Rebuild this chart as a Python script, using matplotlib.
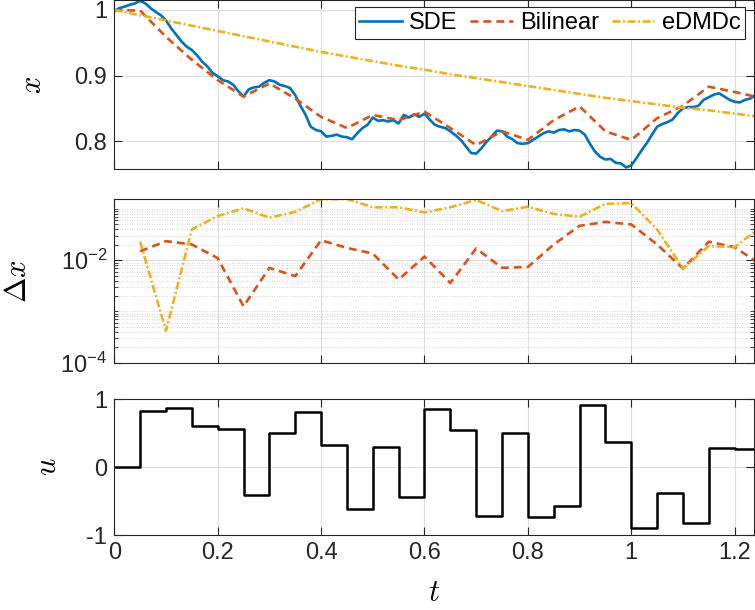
import numpy as np
import matplotlib
matplotlib.use("Agg")
import matplotlib.pyplot as plt
from matplotlib.ticker import FixedLocator, NullFormatter

plt.rcParams['font.family'] = ['Liberation Sans', 'DejaVu Sans']
plt.rcParams['mathtext.fontset'] = 'cm'
plt.rcParams['axes.unicode_minus'] = False

# ---- data ----
# SDE trajectory, sampled every 0.01
sde_x = [0.998, 1.003, 1.005, 1.008, 1.010, 1.014, 1.010, 1.003, 0.997, 0.992,
         0.984, 0.972, 0.962, 0.952, 0.944, 0.939, 0.931, 0.921, 0.914, 0.904,
         0.899, 0.893, 0.891, 0.886, 0.876, 0.868, 0.879, 0.882, 0.883, 0.889,
         0.893, 0.891, 0.886, 0.884, 0.881, 0.870, 0.854, 0.840, 0.822, 0.817,
         0.815, 0.807, 0.808, 0.810, 0.807, 0.806, 0.803, 0.812, 0.820, 0.825,
         0.836, 0.831, 0.832, 0.830, 0.832, 0.827, 0.840, 0.836, 0.841, 0.837,
         0.842, 0.833, 0.825, 0.822, 0.820, 0.815, 0.809, 0.802, 0.792, 0.782,
         0.781, 0.789, 0.799, 0.807, 0.816, 0.815, 0.807, 0.803, 0.797, 0.796,
         0.797, 0.802, 0.807, 0.812, 0.815, 0.813, 0.817, 0.818, 0.815, 0.817,
         0.816, 0.810, 0.796, 0.784, 0.776, 0.772, 0.773, 0.767, 0.766, 0.760,
         0.763, 0.774, 0.786, 0.797, 0.810, 0.822, 0.826, 0.829, 0.833, 0.843,
         0.850, 0.852, 0.852, 0.854, 0.863, 0.867, 0.871, 0.873, 0.868, 0.863,
         0.860, 0.859, 0.863, 0.865, 0.870]
t_sde = np.round(np.arange(len(sde_x)) * 0.01, 2)

# model predictions, sampled every 0.05
t_pred = np.round(np.arange(26) * 0.05, 2)
bilinear_x = [1.000, 0.999, 0.959, 0.924, 0.893, 0.868, 0.888, 0.865, 0.837, 0.820,
              0.840, 0.832, 0.845, 0.820, 0.794, 0.815, 0.802, 0.832, 0.853, 0.815,
              0.802, 0.835, 0.854, 0.883, 0.875, 0.866]
edmdc_x = [1.000, 0.992, 0.984, 0.976, 0.968, 0.960, 0.952, 0.944, 0.936, 0.929,
           0.922, 0.915, 0.909, 0.902, 0.896, 0.890, 0.884, 0.878, 0.872, 0.866,
           0.861, 0.856, 0.851, 0.847, 0.842, 0.837]

# errors (from t = 0.05)
t_err = t_pred[1:]
bilinear_err = [0.015, 0.0236, 0.0203, 0.011, 0.00126, 0.0071, 0.0049, 0.0246, 0.0174,
                0.0135, 0.0042, 0.0118, 0.0036, 0.017, 0.0071, 0.0074, 0.0203, 0.047,
                0.056, 0.050, 0.0203, 0.0069, 0.023, 0.018, 0.0083]
edmdc_err = [0.023, 0.00042, 0.040, 0.073, 0.103, 0.068, 0.088, 0.155, 0.157, 0.108,
             0.108, 0.086, 0.108, 0.15, 0.091, 0.111, 0.080, 0.071, 0.126, 0.13,
             0.040, 0.0069, 0.019, 0.018, 0.044]

# input signal, constant on each 0.05 interval
u_vals = [0.0, 0.83, 0.875, 0.606, 0.557, -0.41, 0.50, 0.807, 0.328, -0.616,
          0.298, -0.435, 0.856, 0.538, -0.724, 0.494, -0.729, -0.577, 0.905, 0.372,
          -0.89, -0.377, -0.817, 0.279, 0.259, 0.259]

c_sde = '#0072BD'
c_bil = '#D95319'
c_edm = '#EDB120'
c_ax = '#262626'
lw = 1.9
dash = (3.0, 1.9)
dashdot = (3.0, 1.0, 0.7, 1.0)
xmax = 1.238
fs = 17
lab_fs = 22

fig = plt.figure(figsize=(7.55, 6.10), dpi=100)
L, W = 0.1514, 0.8477
ax1 = fig.add_axes([L, 0.7230, W, 0.2770])
ax2 = fig.add_axes([L, 0.4054, W, 0.2684])
ax3 = fig.add_axes([L, 0.1225, W, 0.2234])


def style(ax):
    ax.set_xlim(0, xmax)
    ax.set_xticks([0, 0.2, 0.4, 0.6, 0.8, 1.0, 1.2])
    ax.tick_params(direction='in', top=True, right=True, length=6, width=0.8,
                   colors=c_ax, labelsize=fs, pad=5)
    ax.tick_params(which='minor', direction='in', right=True, length=3, width=0.6,
                   colors=c_ax)
    for s in ax.spines.values():
        s.set_color(c_ax)
        s.set_linewidth(0.8)
    ax.grid(True, which='major', color='#dedede', lw=0.8)
    ax.set_axisbelow(True)


# ---- top: trajectories ----
ax1.plot(t_sde, sde_x, color=c_sde, lw=lw, label='SDE')
ax1.plot(t_pred, bilinear_x, color=c_bil, lw=lw, dashes=dash, label='Bilinear')
ax1.plot(t_pred, edmdc_x, color=c_edm, lw=lw, dashes=dashdot, label='eDMDc')
style(ax1)
ax1.set_ylim(0.7576, 1.0152)
ax1.set_yticks([0.8, 0.9, 1.0])
ax1.set_yticklabels(['0.8', '0.9', '1'])
ax1.set_xticklabels([])
ax1.set_ylabel(r'$x$', fontsize=lab_fs)
ax1.yaxis.set_label_coords(-0.104, 0.5)
leg = ax1.legend(loc='upper right', bbox_to_anchor=(0.9855, 0.958), ncol=3,
                 fontsize=fs, frameon=True, fancybox=False, framealpha=1,
                 edgecolor=c_ax, handlelength=1.8, handletextpad=0.3,
                 columnspacing=0.55, borderpad=0.2, borderaxespad=0)
leg.get_frame().set_linewidth(0.8)

# ---- middle: errors ----
ax2.plot(t_err, bilinear_err, color=c_bil, lw=lw, dashes=dash)
ax2.plot(t_err, edmdc_err, color=c_edm, lw=lw, dashes=dashdot)
ax2.set_yscale('log')
style(ax2)
ax2.set_ylim(1e-4, 0.157)
ax2.yaxis.set_major_locator(FixedLocator([1e-4, 1e-2]))
ax2.set_yticklabels([r'$\mathdefault{10^{-4}}$', r'$\mathdefault{10^{-2}}$'])
minor = [m * 10.0 ** k for k in range(-4, 0) for m in range(1, 10)]
minor = [v for v in minor if v not in (1e-4, 1e-2) and v < 0.157]
ax2.yaxis.set_minor_locator(FixedLocator(minor))
ax2.yaxis.set_minor_formatter(NullFormatter())
ax2.grid(True, which='minor', axis='y', color='#c8c8c8', lw=0.6, ls=(0, (1, 2)))
ax2.set_xticklabels([])
ax2.set_ylabel(r'$\Delta x$', fontsize=lab_fs)
ax2.yaxis.set_label_coords(-0.127, 0.5)

# ---- bottom: input ----
ax3.step(t_pred, u_vals, where='post', color='black', lw=1.8)
style(ax3)
ax3.set_ylim(-1, 1)
ax3.set_yticks([-1, 0, 1])
ax3.set_xticklabels(['0', '0.2', '0.4', '0.6', '0.8', '1', '1.2'])
ax3.set_ylabel(r'$u$', fontsize=lab_fs)
ax3.yaxis.set_label_coords(-0.080, 0.5)
ax3.set_xlabel(r'$t$', fontsize=lab_fs, labelpad=10)

fig.savefig('out.png', dpi=100)
